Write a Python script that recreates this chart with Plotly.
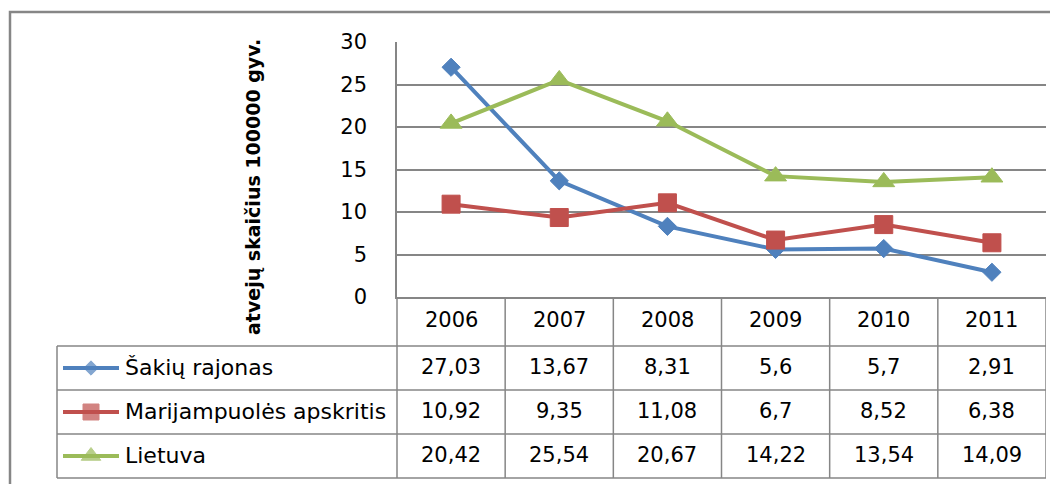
import plotly.graph_objects as go

years = ["2006", "2007", "2008", "2009", "2010", "2011"]
series_names = ["Šakių rajonas", "Marijampuolės apskritis", "Lietuva"]
sakiu = [27.03, 13.67, 8.31, 5.6, 5.7, 2.91]
marijampole = [10.92, 9.35, 11.08, 6.7, 8.52, 6.38]
lietuva = [20.42, 25.54, 20.67, 14.22, 13.54, 14.09]
y_ticks = [0, 5, 10, 15, 20, 25, 30]
y_title = "atvejų skaičius 100000 gyv."

series_values = [sakiu, marijampole, lietuva]
colors = ["#4F81BD", "#C0504D", "#9BBB59"]
symbols = ["diamond", "square", "triangle-up"]
sizes = [14, 18, 19]
key_sizes = [11, 16, 17]

W, H = 1058, 484
OFF = 8  # page body margin offset
def X(px):
    return (px - OFF) / W
def Y(py):
    return 1 - (py - OFF) / H

GRID = "#868686"
FONT = "DejaVu Sans"
FS = 21

fig = go.Figure()
for name, vals, c, s, sz in zip(series_names, series_values, colors, symbols, sizes):
    fig.add_trace(go.Scatter(
        x=years, y=vals, name=name, mode="lines+markers",
        line=dict(color=c, width=4),
        marker=dict(symbol=s, size=sz, color=c, line=dict(color=c, width=1)),
        showlegend=False, xaxis="x", yaxis="y", cliponaxis=False,
    ))

# legend keys inside the data table (pixel overlay axis)
row_centers = [368, 412, 456]
for c, s, sz, rc in zip(colors, symbols, key_sizes, row_centers):
    fig.add_trace(go.Scatter(
        x=[63, 91, 119], y=[rc, rc, rc], mode="lines+markers",
        line=dict(color=c, width=4),
        marker=dict(symbol=s, size=[0, sz, 0], color=c, line=dict(color=c, width=[0, 1, 0])),
        showlegend=False, xaxis="x2", yaxis="y2", hoverinfo="skip",
    ))

annotations = []
# y-axis title
annotations.append(dict(text="<b>" + y_title + "</b>", textangle=-90,
                        x=X(253), y=Y(187), xref="paper", yref="paper",
                        xanchor="center", yanchor="middle",
                        showarrow=False, font=dict(family=FONT, size=19, color="black")))
# header years
for j, yr in enumerate(years):
    annotations.append(dict(text=yr, x=j, xref="x", y=Y(320), yref="paper",
                            xanchor="center", yanchor="middle",
                            showarrow=False, font=dict(family=FONT, size=FS, color="black")))
# series rows
for name, vals, rc in zip(series_names, series_values, row_centers):
    annotations.append(dict(text=name, x=X(123), xanchor="left", xref="paper",
                            y=Y(rc - 1), yref="paper", yanchor="middle", showarrow=False,
                            font=dict(family=FONT, size=22, color="black")))
    for j, v in enumerate(vals):
        annotations.append(dict(text=str(v).replace(".", ","), x=j, xref="x",
                                y=Y(rc - 1), yref="paper", xanchor="center", yanchor="middle",
                                showarrow=False,
                                font=dict(family=FONT, size=FS, color="black")))

shapes = []
lw = 1.5
for yy in [346, 390, 434, 478]:
    shapes.append(dict(type="line", xref="paper", yref="paper",
                       x0=X(57), x1=X(1046), y0=Y(yy), y1=Y(yy),
                       line=dict(color=GRID, width=lw)))
shapes.append(dict(type="line", xref="paper", yref="paper", x0=X(57), x1=X(57),
                   y0=Y(346), y1=Y(478), line=dict(color=GRID, width=lw)))
shapes.append(dict(type="line", xref="paper", yref="paper", x0=X(397), x1=X(397),
                   y0=Y(297), y1=Y(478), line=dict(color=GRID, width=lw)))
for k in range(len(years)):
    shapes.append(dict(type="line", xref="x", yref="paper", x0=k + 0.5, x1=k + 0.5,
                       y0=Y(297), y1=Y(478), line=dict(color=GRID, width=lw)))
# outer chart border
shapes.append(dict(type="rect", xref="paper", yref="paper", x0=X(10), x1=X(1090),
                   y0=Y(12), y1=Y(510), line=dict(color=GRID, width=2.5),
                   fillcolor="rgba(0,0,0,0)"))

fig.update_layout(
    width=W, height=H, margin=dict(l=0, r=0, t=0, b=0, pad=0, autoexpand=False),
    paper_bgcolor="white", plot_bgcolor="rgba(0,0,0,0)",
    xaxis=dict(domain=[X(397), X(1046)], type="category", range=[-0.5, 5.5],
               showticklabels=False, showgrid=False, ticks="", automargin=False,
               showline=True, linecolor=GRID, linewidth=lw, zeroline=False, fixedrange=True),
    yaxis=dict(domain=[Y(297), Y(42)], range=[0, 30], tickvals=y_ticks,
               showgrid=True, gridcolor=GRID, gridwidth=lw, zeroline=False,
               showline=True, linecolor=GRID, linewidth=lw, ticks="", automargin=False,
               ticklabelstandoff=24,
               tickfont=dict(family=FONT, size=FS, color="black")),
    xaxis2=dict(domain=[0, 1], range=[OFF, W + OFF], visible=False, anchor="y2", automargin=False),
    yaxis2=dict(domain=[0, 1], range=[H + OFF, OFF], visible=False, anchor="x2", automargin=False),
    annotations=annotations, shapes=shapes, showlegend=False,
)

fig.write_html("out.html")
